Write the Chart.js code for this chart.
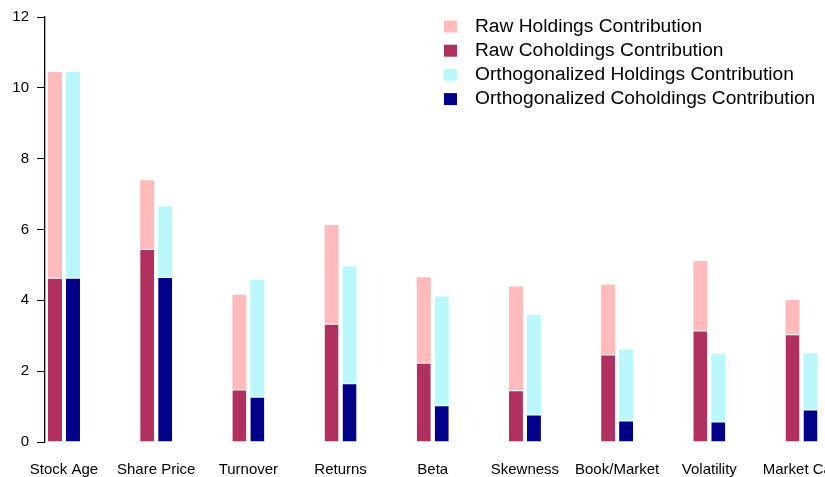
<!DOCTYPE html>
<html>
<head>
<meta charset="utf-8">
<script src="https://cdn.jsdelivr.net/npm/chart.js@4/dist/chart.umd.min.js"></script>
<style>
  html, body { margin: 0; padding: 0; background: #fff; overflow: hidden; }
  #wrap { width: 825px; height: 477px; overflow: hidden; }
</style>
</head>
<body>
<div id="wrap"><canvas id="myChart" width="880" height="477"></canvas></div>
<script>
'use strict';

// categories and the four stacked pieces
let categories = ['Stock Age', 'Share Price', 'Turnover', 'Returns', 'Beta', 'Skewness', 'Book/Market', 'Volatility', 'Market Cap'];
let rawHoldings = [5.81, 1.94, 2.68, 2.79, 2.41, 2.93, 1.97, 1.96, 0.97];
let rawCoholdings = [4.64, 5.45, 1.48, 3.34, 2.24, 1.46, 2.47, 3.15, 3.04];
let orthHoldings = [5.81, 2.00, 3.30, 3.30, 3.07, 2.81, 2.01, 1.91, 1.59];
let orthCoholdings = [4.64, 4.66, 1.28, 1.66, 1.04, 0.78, 0.61, 0.58, 0.92];
let yTicks = [0, 2, 4, 6, 8, 10, 12];

let font = 'Liberation Sans, Arial, Helvetica, sans-serif';

function points(arr) {
  return arr.map(function (v, i) { return { x: i, y: v }; });
}

// small legend drawn in the top right corner of the plot
let cornerLegend = {
  id: 'cornerLegend',
  afterDraw: function (chart) {
    let ctx = chart.ctx;
    let order = [1, 0, 3, 2];
    ctx.save();
    ctx.font = '19.2px ' + font;
    ctx.textBaseline = 'middle';
    ctx.textAlign = 'left';
    order.forEach(function (di, row) {
      let ds = chart.data.datasets[di];
      let y = 26.5 + row * 24.2;
      ctx.fillStyle = ds.backgroundColor;
      ctx.fillRect(444, y - 6, 13, 12);
      ctx.fillStyle = '#000';
      ctx.fillText(ds.label, 475, y);
    });
    ctx.restore();
  }
};

var ctx = document.getElementById('myChart').getContext('2d');

var myChart = new Chart(ctx, {
  type: 'bar',
  data: {
    datasets: [
      { label: 'Raw Coholdings Contribution', stack: 'raw', data: points(rawCoholdings),
        backgroundColor: '#B03060', borderColor: '#fff', borderWidth: { top: 1, left: 0, right: 0, bottom: 0 } },
      { label: 'Raw Holdings Contribution', stack: 'raw', data: points(rawHoldings),
        backgroundColor: '#FFBBBB', borderWidth: 0 },
      { label: 'Orthogonalized Coholdings Contribution', stack: 'orth', data: points(orthCoholdings),
        backgroundColor: '#000088', borderColor: '#fff', borderWidth: { top: 1, left: 0, right: 0, bottom: 0 } },
      { label: 'Orthogonalized Holdings Contribution', stack: 'orth', data: points(orthHoldings),
        backgroundColor: '#BBF8FC', borderWidth: 0 }
    ]
  },
  options: {
    responsive: false,
    animation: false,
    categoryPercentage: 0.39,
    barPercentage: 0.78,
    layout: { padding: { top: 15, right: 10, left: 0, bottom: 0 } },
    plugins: { legend: { display: false }, tooltip: { enabled: false } },
    scales: {
      x: {
        type: 'linear',
        offset: false,
        min: -0.206,
        max: 8.743,
        grid: { display: false },
        border: { display: false },
        afterBuildTicks: function (scale) {
          scale.ticks = categories.map(function (c, i) { return { value: i }; });
        },
        afterFit: function (scale) { scale.height = 35; },
        ticks: {
          autoSkip: false,
          maxRotation: 0,
          padding: 11,
          color: '#000',
          font: { family: font, size: 15 },
          callback: function (v) { return categories[v]; }
        }
      },
      y: {
        stacked: true,
        min: 0,
        max: 12,
        afterBuildTicks: function (scale) {
          scale.ticks = yTicks.map(function (v) { return { value: v }; });
        },
        afterFit: function (scale) { scale.width = 45; },
        grid: { drawOnChartArea: false, drawTicks: true, tickLength: 8, color: '#000', lineWidth: 1 },
        border: { display: true, color: '#000', width: 1.3 },
        ticks: {
          padding: 8,
          color: '#000',
          font: { family: font, size: 15 }
        }
      }
    }
  },
  plugins: [cornerLegend]
});
</script>
</body>
</html>
